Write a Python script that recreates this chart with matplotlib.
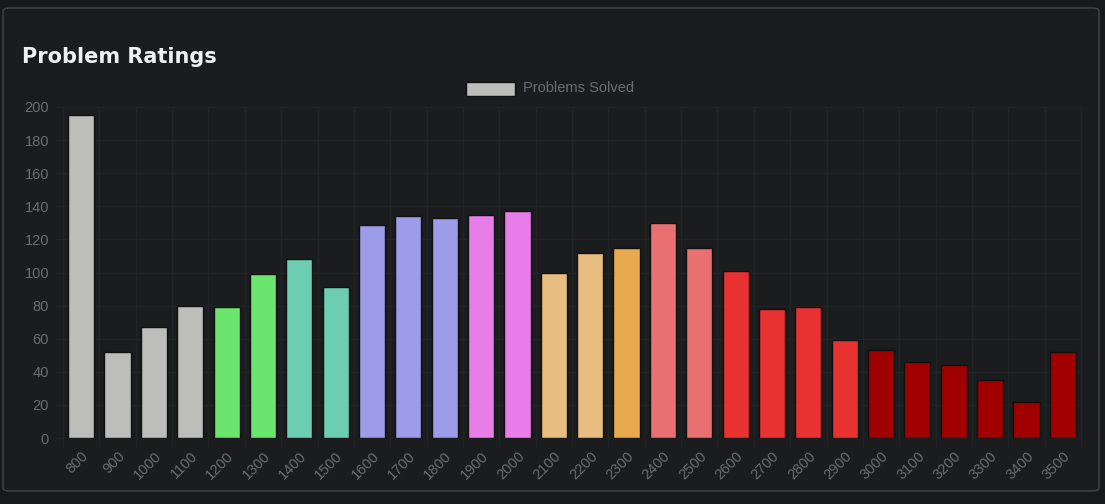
import matplotlib
matplotlib.use("Agg")
import matplotlib.pyplot as plt
from matplotlib.patches import FancyBboxPatch, Rectangle

ratings = [800, 900, 1000, 1100, 1200, 1300, 1400, 1500, 1600, 1700, 1800, 1900, 2000,
           2100, 2200, 2300, 2400, 2500, 2600, 2700, 2800, 2900, 3000, 3100, 3200, 3300,
           3400, 3500]
solved = [195, 52, 67, 80, 79, 99, 108, 91, 129, 134, 133, 135, 137,
          100, 112, 115, 130, 115, 101, 78, 79, 59, 53, 46, 44, 35, 22, 52]

# codeforces-ish rank colours
rank_colors = {
    800: "#bdbebc", 1200: "#6be56d", 1400: "#6dcdb0", 1600: "#9c9ce8",
    1900: "#e87ce8", 2100: "#e8bd82", 2300: "#e8aa4f", 2400: "#e87070",
    2600: "#e83232", 3000: "#a00000",
}

def color_for(r):
    c = None
    for k in sorted(rank_colors):
        if r >= k:
            c = rank_colors[k]
    return c

colors = [color_for(r) for r in ratings]

W, H = 1105, 504
bg = "#1b1c1e"
grid_c = "#222325"
tick_c = "#6c6c6c"

fig = plt.figure(figsize=(W / 100, H / 100), dpi=100)
fig.patch.set_facecolor("#18191b")

card = FancyBboxPatch((3 / W, 13 / H), 1096 / W, 483 / H,
                      boxstyle="round,pad=0,rounding_size=0.006",
                      transform=fig.transFigure, facecolor=bg,
                      edgecolor="#45464a", linewidth=1, zorder=-10)
fig.patches.append(card)

fig.text(22 / W, 1 - 57 / H, "Problem Ratings", color="#f0f0f0",
         fontsize=15, fontweight="bold", family="DejaVu Sans", va="center")

# legend
fig.patches.append(Rectangle((466 / W, 1 - 96 / H), 49 / W, 14 / H,
                             transform=fig.transFigure, facecolor=colors[0],
                             edgecolor="#111111", linewidth=1))
fig.text(523 / W, 1 - 88 / H, "Problems Solved", color=tick_c,
         fontsize=10.5, family="Liberation Sans", va="center")

ax = fig.add_axes([63 / W, (H - 438) / H, (1081 - 63) / W, (438 - 107) / H])
ax.set_facecolor(bg)
x = list(range(len(ratings)))
ax.bar(x, solved, width=0.72, color=colors, edgecolor="#111111", linewidth=1, zorder=3)

ax.set_xlim(-0.5, len(ratings) - 0.5)
ax.set_ylim(0, 200)
ax.set_yticks(range(0, 201, 20))
ax.set_xticks(x)
ax.set_xticklabels([str(r) for r in ratings], rotation=45, ha="right",
                   rotation_mode="anchor", family="Liberation Sans",
                   fontsize=10.5, color=tick_c)
for lab in ax.get_yticklabels():
    lab.set_family("Liberation Sans")
ax.tick_params(axis="y", colors=tick_c, labelsize=10.5, length=6, color=grid_c, pad=4)
ax.tick_params(axis="x", length=0, pad=8)

for v in range(0, 201, 20):
    ax.axhline(v, color=grid_c, linewidth=1, zorder=1)
for i in range(len(ratings) + 1):
    ax.plot([i - 0.5, i - 0.5], [-4.8, 200], color=grid_c, linewidth=1,
            zorder=1, clip_on=False)
for s in ax.spines.values():
    s.set_visible(False)

fig.savefig("out.png", dpi=100, facecolor=fig.get_facecolor())
